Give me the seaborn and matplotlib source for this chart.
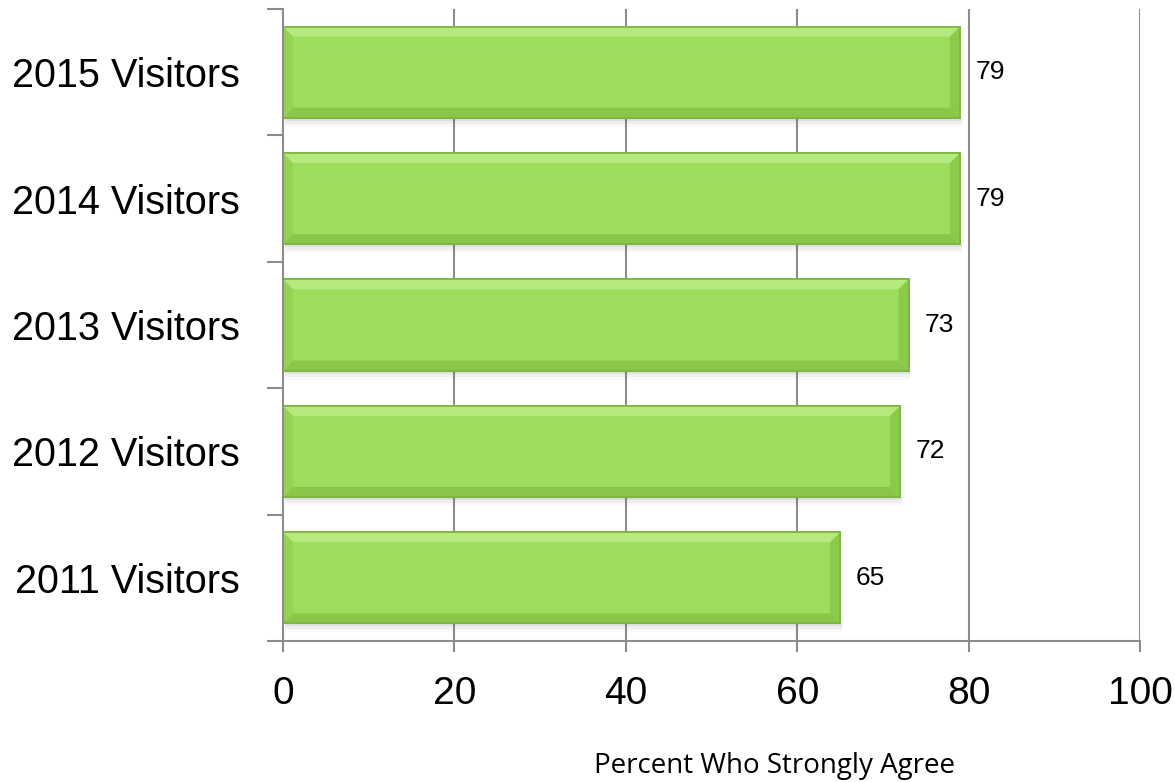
import matplotlib
matplotlib.use("Agg")
import matplotlib.pyplot as plt
from matplotlib.patches import Polygon, Rectangle
import numpy as np
import pandas as pd
import seaborn as sns

categories = ["2015 Visitors", "2014 Visitors", "2013 Visitors", "2012 Visitors", "2011 Visitors"]
values = [79, 79, 73, 72, 65]
x_ticks = [0, 20, 40, 60, 80, 100]
x_label = "Percent Who Strongly Agree"

df = pd.DataFrame({"group": categories, "pct": values})

sns.set_style("white")
fig = plt.figure(figsize=(11.75, 7.82), dpi=100)
ax = fig.add_axes([0.2409, 0.1803, 0.7293, 0.8082])

bar_color = "#9EDC5C"
sns.barplot(data=df, y="group", x="pct", order=categories, color=bar_color,
            width=0.72, saturation=1, edgecolor="#7CB440", linewidth=1.2,
            ax=ax, zorder=3)

ax.set_xlim(0, 100)
ax.set_ylim(len(categories) - 0.5, -0.5)

# bevel shading and a soft drop shadow for each bar
px_per_x = (0.7293 * 1175) / 100.0
px_per_y = (0.8082 * 782) / len(categories)
bw = 10 / px_per_x
bh = 10 / px_per_y
for p in list(ax.patches):
    x0, y0 = p.get_x(), p.get_y()
    w, h = p.get_width(), p.get_height()
    x1, y1 = x0 + w, y0 + h
    # shadow below the bar
    for k, a in enumerate([0.10, 0.06, 0.03]):
        ax.add_patch(Rectangle((x0 + 0.2, y1), w, (k + 1) * 3 / px_per_y,
                               facecolor="#555555", alpha=a, lw=0, zorder=2))
    # top face (lighter)
    ax.add_patch(Polygon([(x0, y0), (x1, y0), (x1 - bw, y0 + bh), (x0 + bw, y0 + bh)],
                         closed=True, facecolor="#B6EA7E", lw=0, zorder=4))
    # bottom face (darker)
    ax.add_patch(Polygon([(x0, y1), (x1, y1), (x1 - bw, y1 - bh), (x0 + bw, y1 - bh)],
                         closed=True, facecolor="#8AC64A", lw=0, zorder=4))
    # left face
    ax.add_patch(Polygon([(x0, y0), (x0 + bw, y0 + bh), (x0 + bw, y1 - bh), (x0, y1)],
                         closed=True, facecolor="#94D452", lw=0, zorder=4))
    # right face
    ax.add_patch(Polygon([(x1, y0), (x1 - bw, y0 + bh), (x1 - bw, y1 - bh), (x1, y1)],
                         closed=True, facecolor="#8CCA4B", lw=0, zorder=4))
    ax.add_patch(Rectangle((x0, y0), w, h, facecolor="none", edgecolor="#7CB440",
                           lw=1.2, zorder=5))

# value labels
for i, v in enumerate(values):
    ax.text(v + 16 / px_per_x, i, f"{v}", va="center", ha="left",
            fontsize=19, family="Liberation Sans", color="black", zorder=6)

grid_color = "#8C8C8C"
ax.set_xticks(x_ticks)
ax.set_xticklabels([str(t) for t in x_ticks], fontsize=28, family="Liberation Sans",
                   color="black")
for t in x_ticks[1:]:
    ax.axvline(t, color=grid_color, lw=1.5, zorder=1)

ax.set_yticks(range(len(categories)))
ax.set_yticklabels(categories, fontsize=28.5, family="Liberation Sans", color="black")
ax.set_yticks(np.arange(-0.5, len(categories), 1.0), minor=True)
ax.tick_params(axis="y", which="major", length=0, pad=31)
ax.tick_params(axis="y", which="minor", length=11.5, width=1.5, color=grid_color, left=True)
ax.tick_params(axis="x", which="major", length=8, width=1.5, color=grid_color,
               bottom=True, pad=17)

for s in ["top", "right"]:
    ax.spines[s].set_visible(False)
for s in ["left", "bottom"]:
    ax.spines[s].set_color(grid_color)
    ax.spines[s].set_linewidth(1.5)
    ax.spines[s].set_zorder(6)

ax.set_ylabel("")
ax.set_xlabel(x_label, fontsize=20, family="Open Sans", color="black")
ax.xaxis.set_label_coords(0.573, -0.198)
ax.xaxis.label.set_va("center")

fig.savefig("out.png", dpi=100)
